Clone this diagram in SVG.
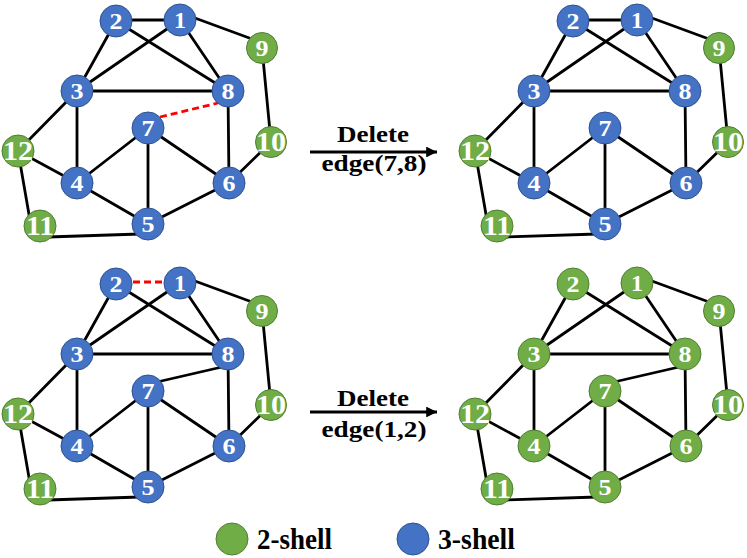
<svg xmlns="http://www.w3.org/2000/svg" width="747" height="558" viewBox="0 0 747 558">
<defs>
<style>
.e{stroke:#000;stroke-width:2.8;fill:none;stroke-linecap:round}
.d{stroke:#ff0000;stroke-width:2.8;fill:none;stroke-dasharray:7,4}
.b{fill:#4472C4;stroke:#2F528F;stroke-width:1}
.g{fill:#70AD47;stroke:#507E32;stroke-width:1}
.n{font-family:"Liberation Serif","Times New Roman",serif;font-weight:bold;font-size:24px;fill:#fff;text-anchor:middle}
.m{font-family:"Liberation Serif","Times New Roman",serif;font-weight:bold;font-size:27px;fill:#fff;text-anchor:middle}
.t{font-family:"Liberation Serif","Times New Roman",serif;font-weight:bold;font-size:23px;fill:#000;text-anchor:middle}
.l{font-family:"Liberation Serif","Times New Roman",serif;font-weight:bold;font-size:29px;fill:#000}
.a{stroke:#000;stroke-width:3;fill:none}
</style>
<marker id="arr" viewBox="0 0 10 10" refX="10" refY="5" markerWidth="3.6" markerHeight="3.6" orient="auto" markerUnits="strokeWidth">
<path d="M0,0 L10,5 L0,10 z" fill="#000"/>
</marker>
</defs>
<rect width="747" height="558" fill="#fff"/>

<!-- Top-left panel -->
<g id="panel-tl">
<g id="edges-tl">
<line class="e" x1="116" y1="20" x2="180" y2="20"/>
<line class="e" x1="116" y1="21" x2="77" y2="91"/>
<line class="e" x1="116" y1="21" x2="228" y2="91"/>
<line class="e" x1="180" y1="20" x2="77" y2="91"/>
<line class="e" x1="180" y1="20" x2="228" y2="91"/>
<line class="e" x1="184" y1="14" x2="252" y2="39"/>
<line class="e" x1="77" y1="91" x2="228" y2="91"/>
<line class="e" x1="77" y1="91" x2="18" y2="151"/>
<line class="e" x1="77" y1="91" x2="77" y2="183"/>
<line class="d" x1="160" y1="117" x2="218" y2="103"/>
<line class="e" x1="148" y1="128" x2="77" y2="183"/>
<line class="e" x1="148" y1="128" x2="148" y2="224"/>
<line class="e" x1="148" y1="128" x2="229" y2="183"/>
<line class="e" x1="228" y1="91" x2="229" y2="183"/>
<line class="e" x1="262" y1="48" x2="271" y2="142"/>
<line class="e" x1="271" y1="142" x2="229" y2="183"/>
<line class="e" x1="18" y1="151" x2="77" y2="183"/>
<line class="e" x1="18" y1="151" x2="31" y2="226"/>
<line class="e" x1="48" y1="237" x2="140" y2="234"/>
<line class="e" x1="77" y1="183" x2="148" y2="224"/>
<line class="e" x1="148" y1="224" x2="229" y2="183"/>
</g>
<g id="tl-n1"><circle class="b" cx="180" cy="20" r="16"/><text class="n" x="180" y="28" textLength="12" lengthAdjust="spacingAndGlyphs">1</text></g>
<g id="tl-n2"><circle class="b" cx="116" cy="21" r="16"/><text class="n" x="116" y="29" textLength="13" lengthAdjust="spacingAndGlyphs">2</text></g>
<g id="tl-n3"><circle class="b" cx="77" cy="91" r="16"/><text class="n" x="77" y="99" textLength="13" lengthAdjust="spacingAndGlyphs">3</text></g>
<g id="tl-n4"><circle class="b" cx="77" cy="183" r="16"/><text class="n" x="77" y="191" textLength="13" lengthAdjust="spacingAndGlyphs">4</text></g>
<g id="tl-n5"><circle class="b" cx="148" cy="224" r="16"/><text class="n" x="148" y="232" textLength="13" lengthAdjust="spacingAndGlyphs">5</text></g>
<g id="tl-n6"><circle class="b" cx="229" cy="183" r="16"/><text class="n" x="229" y="191" textLength="13" lengthAdjust="spacingAndGlyphs">6</text></g>
<g id="tl-n7"><circle class="b" cx="148" cy="128" r="16"/><text class="n" x="148" y="136" textLength="13" lengthAdjust="spacingAndGlyphs">7</text></g>
<g id="tl-n8"><circle class="b" cx="228" cy="91" r="16"/><text class="n" x="228" y="99" textLength="13" lengthAdjust="spacingAndGlyphs">8</text></g>
<g id="tl-n9"><circle class="g" cx="262" cy="48" r="15.5"/><text class="n" x="262" y="56" textLength="13" lengthAdjust="spacingAndGlyphs">9</text></g>
<g id="tl-n10"><circle class="g" cx="271" cy="142" r="15.5"/><text class="m" x="271" y="151" textLength="30" lengthAdjust="spacingAndGlyphs">10</text></g>
<g id="tl-n11"><circle class="g" cx="40" cy="226" r="16"/><text class="m" x="40" y="235" textLength="28" lengthAdjust="spacingAndGlyphs">11</text></g>
<g id="tl-n12"><circle class="g" cx="18" cy="151" r="16"/><text class="m" x="18" y="160" textLength="30" lengthAdjust="spacingAndGlyphs">12</text></g>
</g>

<!-- Top-right panel -->
<g id="panel-tr" transform="translate(457,0)">
<g id="edges-tr">
<line class="e" x1="116" y1="20" x2="180" y2="20"/>
<line class="e" x1="116" y1="21" x2="77" y2="91"/>
<line class="e" x1="116" y1="21" x2="228" y2="91"/>
<line class="e" x1="180" y1="20" x2="77" y2="91"/>
<line class="e" x1="180" y1="20" x2="228" y2="91"/>
<line class="e" x1="184" y1="14" x2="252" y2="39"/>
<line class="e" x1="77" y1="91" x2="228" y2="91"/>
<line class="e" x1="77" y1="91" x2="18" y2="151"/>
<line class="e" x1="77" y1="91" x2="77" y2="183"/>
<line class="e" x1="148" y1="128" x2="77" y2="183"/>
<line class="e" x1="148" y1="128" x2="148" y2="224"/>
<line class="e" x1="148" y1="128" x2="229" y2="183"/>
<line class="e" x1="228" y1="91" x2="229" y2="183"/>
<line class="e" x1="262" y1="48" x2="271" y2="142"/>
<line class="e" x1="271" y1="142" x2="229" y2="183"/>
<line class="e" x1="18" y1="151" x2="77" y2="183"/>
<line class="e" x1="18" y1="151" x2="31" y2="226"/>
<line class="e" x1="48" y1="237" x2="140" y2="234"/>
<line class="e" x1="77" y1="183" x2="148" y2="224"/>
<line class="e" x1="148" y1="224" x2="229" y2="183"/>
</g>
<g id="tr-n1"><circle class="b" cx="180" cy="20" r="16"/><text class="n" x="180" y="28" textLength="12" lengthAdjust="spacingAndGlyphs">1</text></g>
<g id="tr-n2"><circle class="b" cx="116" cy="21" r="16"/><text class="n" x="116" y="29" textLength="13" lengthAdjust="spacingAndGlyphs">2</text></g>
<g id="tr-n3"><circle class="b" cx="77" cy="91" r="16"/><text class="n" x="77" y="99" textLength="13" lengthAdjust="spacingAndGlyphs">3</text></g>
<g id="tr-n4"><circle class="b" cx="77" cy="183" r="16"/><text class="n" x="77" y="191" textLength="13" lengthAdjust="spacingAndGlyphs">4</text></g>
<g id="tr-n5"><circle class="b" cx="148" cy="224" r="16"/><text class="n" x="148" y="232" textLength="13" lengthAdjust="spacingAndGlyphs">5</text></g>
<g id="tr-n6"><circle class="b" cx="229" cy="183" r="16"/><text class="n" x="229" y="191" textLength="13" lengthAdjust="spacingAndGlyphs">6</text></g>
<g id="tr-n7"><circle class="b" cx="148" cy="128" r="16"/><text class="n" x="148" y="136" textLength="13" lengthAdjust="spacingAndGlyphs">7</text></g>
<g id="tr-n8"><circle class="b" cx="228" cy="91" r="16"/><text class="n" x="228" y="99" textLength="13" lengthAdjust="spacingAndGlyphs">8</text></g>
<g id="tr-n9"><circle class="g" cx="262" cy="48" r="15.5"/><text class="n" x="262" y="56" textLength="13" lengthAdjust="spacingAndGlyphs">9</text></g>
<g id="tr-n10"><circle class="g" cx="271" cy="142" r="15.5"/><text class="m" x="271" y="151" textLength="30" lengthAdjust="spacingAndGlyphs">10</text></g>
<g id="tr-n11"><circle class="g" cx="40" cy="226" r="16"/><text class="m" x="40" y="235" textLength="28" lengthAdjust="spacingAndGlyphs">11</text></g>
<g id="tr-n12"><circle class="g" cx="18" cy="151" r="16"/><text class="m" x="18" y="160" textLength="30" lengthAdjust="spacingAndGlyphs">12</text></g>
</g>

<!-- Bottom-left panel -->
<g id="panel-bl" transform="translate(0,263)">
<g id="edges-bl">
<line class="d" x1="133" y1="19" x2="164" y2="19"/>
<line class="e" x1="116" y1="21" x2="77" y2="91"/>
<line class="e" x1="116" y1="21" x2="228" y2="91"/>
<line class="e" x1="180" y1="20" x2="77" y2="91"/>
<line class="e" x1="180" y1="20" x2="228" y2="91"/>
<line class="e" x1="184" y1="14" x2="252" y2="39"/>
<line class="e" x1="77" y1="91" x2="228" y2="91"/>
<line class="e" x1="77" y1="91" x2="18" y2="151"/>
<line class="e" x1="77" y1="91" x2="77" y2="183"/>
<line class="e" x1="157" y1="119" x2="222" y2="104"/>
<line class="e" x1="148" y1="128" x2="77" y2="183"/>
<line class="e" x1="148" y1="128" x2="148" y2="224"/>
<line class="e" x1="148" y1="128" x2="229" y2="183"/>
<line class="e" x1="228" y1="91" x2="229" y2="183"/>
<line class="e" x1="262" y1="48" x2="271" y2="142"/>
<line class="e" x1="271" y1="142" x2="229" y2="183"/>
<line class="e" x1="18" y1="151" x2="77" y2="183"/>
<line class="e" x1="18" y1="151" x2="31" y2="226"/>
<line class="e" x1="48" y1="237" x2="140" y2="234"/>
<line class="e" x1="77" y1="183" x2="148" y2="224"/>
<line class="e" x1="148" y1="224" x2="229" y2="183"/>
</g>
<g id="bl-n1"><circle class="b" cx="180" cy="20" r="16"/><text class="n" x="180" y="28" textLength="12" lengthAdjust="spacingAndGlyphs">1</text></g>
<g id="bl-n2"><circle class="b" cx="116" cy="21" r="16"/><text class="n" x="116" y="29" textLength="13" lengthAdjust="spacingAndGlyphs">2</text></g>
<g id="bl-n3"><circle class="b" cx="77" cy="91" r="16"/><text class="n" x="77" y="99" textLength="13" lengthAdjust="spacingAndGlyphs">3</text></g>
<g id="bl-n4"><circle class="b" cx="77" cy="183" r="16"/><text class="n" x="77" y="191" textLength="13" lengthAdjust="spacingAndGlyphs">4</text></g>
<g id="bl-n5"><circle class="b" cx="148" cy="224" r="16"/><text class="n" x="148" y="232" textLength="13" lengthAdjust="spacingAndGlyphs">5</text></g>
<g id="bl-n6"><circle class="b" cx="229" cy="183" r="16"/><text class="n" x="229" y="191" textLength="13" lengthAdjust="spacingAndGlyphs">6</text></g>
<g id="bl-n7"><circle class="b" cx="148" cy="128" r="16"/><text class="n" x="148" y="136" textLength="13" lengthAdjust="spacingAndGlyphs">7</text></g>
<g id="bl-n8"><circle class="b" cx="228" cy="91" r="16"/><text class="n" x="228" y="99" textLength="13" lengthAdjust="spacingAndGlyphs">8</text></g>
<g id="bl-n9"><circle class="g" cx="262" cy="48" r="15.5"/><text class="n" x="262" y="56" textLength="13" lengthAdjust="spacingAndGlyphs">9</text></g>
<g id="bl-n10"><circle class="g" cx="271" cy="142" r="15.5"/><text class="m" x="271" y="151" textLength="30" lengthAdjust="spacingAndGlyphs">10</text></g>
<g id="bl-n11"><circle class="g" cx="40" cy="226" r="16"/><text class="m" x="40" y="235" textLength="28" lengthAdjust="spacingAndGlyphs">11</text></g>
<g id="bl-n12"><circle class="g" cx="18" cy="151" r="16"/><text class="m" x="18" y="160" textLength="30" lengthAdjust="spacingAndGlyphs">12</text></g>
</g>

<!-- Bottom-right panel -->
<g id="panel-br" transform="translate(457,263)">
<g id="edges-br">
<line class="e" x1="116" y1="21" x2="77" y2="91"/>
<line class="e" x1="116" y1="21" x2="228" y2="91"/>
<line class="e" x1="180" y1="20" x2="77" y2="91"/>
<line class="e" x1="180" y1="20" x2="228" y2="91"/>
<line class="e" x1="184" y1="14" x2="252" y2="39"/>
<line class="e" x1="77" y1="91" x2="228" y2="91"/>
<line class="e" x1="77" y1="91" x2="18" y2="151"/>
<line class="e" x1="77" y1="91" x2="77" y2="183"/>
<line class="e" x1="157" y1="119" x2="222" y2="104"/>
<line class="e" x1="148" y1="128" x2="77" y2="183"/>
<line class="e" x1="148" y1="128" x2="148" y2="224"/>
<line class="e" x1="148" y1="128" x2="229" y2="183"/>
<line class="e" x1="228" y1="91" x2="229" y2="183"/>
<line class="e" x1="262" y1="48" x2="271" y2="142"/>
<line class="e" x1="271" y1="142" x2="229" y2="183"/>
<line class="e" x1="18" y1="151" x2="77" y2="183"/>
<line class="e" x1="18" y1="151" x2="31" y2="226"/>
<line class="e" x1="48" y1="237" x2="140" y2="234"/>
<line class="e" x1="77" y1="183" x2="148" y2="224"/>
<line class="e" x1="148" y1="224" x2="229" y2="183"/>
</g>
<g id="br-n1"><circle class="g" cx="180" cy="20" r="16"/><text class="n" x="180" y="28" textLength="12" lengthAdjust="spacingAndGlyphs">1</text></g>
<g id="br-n2"><circle class="g" cx="116" cy="21" r="16"/><text class="n" x="116" y="29" textLength="13" lengthAdjust="spacingAndGlyphs">2</text></g>
<g id="br-n3"><circle class="g" cx="77" cy="91" r="16"/><text class="n" x="77" y="99" textLength="13" lengthAdjust="spacingAndGlyphs">3</text></g>
<g id="br-n4"><circle class="g" cx="77" cy="183" r="16"/><text class="n" x="77" y="191" textLength="13" lengthAdjust="spacingAndGlyphs">4</text></g>
<g id="br-n5"><circle class="g" cx="148" cy="224" r="16"/><text class="n" x="148" y="232" textLength="13" lengthAdjust="spacingAndGlyphs">5</text></g>
<g id="br-n6"><circle class="g" cx="229" cy="183" r="16"/><text class="n" x="229" y="191" textLength="13" lengthAdjust="spacingAndGlyphs">6</text></g>
<g id="br-n7"><circle class="g" cx="148" cy="128" r="16"/><text class="n" x="148" y="136" textLength="13" lengthAdjust="spacingAndGlyphs">7</text></g>
<g id="br-n8"><circle class="g" cx="228" cy="91" r="16"/><text class="n" x="228" y="99" textLength="13" lengthAdjust="spacingAndGlyphs">8</text></g>
<g id="br-n9"><circle class="g" cx="262" cy="48" r="15.5"/><text class="n" x="262" y="56" textLength="13" lengthAdjust="spacingAndGlyphs">9</text></g>
<g id="br-n10"><circle class="g" cx="271" cy="142" r="15.5"/><text class="m" x="271" y="151" textLength="30" lengthAdjust="spacingAndGlyphs">10</text></g>
<g id="br-n11"><circle class="g" cx="40" cy="226" r="16"/><text class="m" x="40" y="235" textLength="28" lengthAdjust="spacingAndGlyphs">11</text></g>
<g id="br-n12"><circle class="g" cx="18" cy="151" r="16"/><text class="m" x="18" y="160" textLength="30" lengthAdjust="spacingAndGlyphs">12</text></g>
</g>

<!-- Arrows -->
<g id="arrow-top">
<line class="a" x1="310" y1="152" x2="437" y2="152" marker-end="url(#arr)"/>
<text class="t" x="373" y="142" textLength="72" lengthAdjust="spacingAndGlyphs">Delete</text>
<text class="t" x="374" y="171" textLength="105" lengthAdjust="spacingAndGlyphs">edge(7,8)</text>
</g>
<g id="arrow-bottom">
<line class="a" x1="310" y1="412" x2="437" y2="412" marker-end="url(#arr)"/>
<text class="t" x="373" y="406" textLength="72" lengthAdjust="spacingAndGlyphs">Delete</text>
<text class="t" x="374" y="437" textLength="105" lengthAdjust="spacingAndGlyphs">edge(1,2)</text>
</g>

<!-- Legend -->
<g id="legend">
<circle class="g" cx="232" cy="539" r="16"/>
<text class="l" x="257" y="549" textLength="75" lengthAdjust="spacingAndGlyphs">2-shell</text>
<circle class="b" cx="413" cy="539" r="16"/>
<text class="l" x="438" y="549" textLength="77" lengthAdjust="spacingAndGlyphs">3-shell</text>
</g>
</svg>
